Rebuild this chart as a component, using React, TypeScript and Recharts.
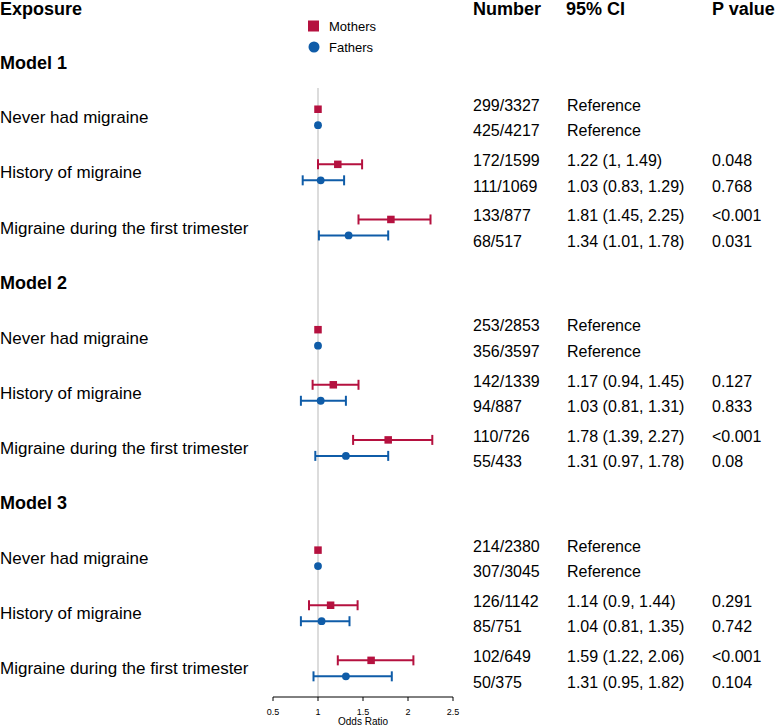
import {
  ErrorBar,
  Label,
  Legend,
  ReferenceLine,
  Scatter,
  ScatterChart,
  XAxis,
  YAxis,
} from 'recharts'

const models = ['Model 1', 'Model 2', 'Model 3']
const exposures = ['Never had migraine', 'History of migraine', 'Migraine during the first trimester']
const columnHeads = ['Number', '95% CI', 'P value']
const oddsTicks = [0.5, 1, 1.5, 2, 2.5]

// per model: never / history / first trimester
const motherOR = [1, 1.22, 1.81, 1, 1.17, 1.78, 1, 1.14, 1.59]
const motherLow = [1, 1, 1.45, 1, 0.94, 1.39, 1, 0.9, 1.22]
const motherHigh = [1, 1.49, 2.25, 1, 1.45, 2.27, 1, 1.44, 2.06]
const motherN = ['299/3327', '172/1599', '133/877', '253/2853', '142/1339', '110/726', '214/2380', '126/1142', '102/649']
const motherP = ['', '0.048', '<0.001', '', '0.127', '<0.001', '', '0.291', '<0.001']

const fatherOR = [1, 1.03, 1.34, 1, 1.03, 1.31, 1, 1.04, 1.31]
const fatherLow = [1, 0.83, 1.01, 1, 0.81, 0.97, 1, 0.81, 0.95]
const fatherHigh = [1, 1.29, 1.78, 1, 1.31, 1.78, 1, 1.35, 1.82]
const fatherN = ['425/4217', '111/1069', '68/517', '356/3597', '94/887', '55/433', '307/3045', '85/751', '50/375']
const fatherP = ['', '0.768', '0.031', '', '0.833', '0.08', '', '0.742', '0.104']

const RED = '#b5113f'
const BLUE = '#0f5ca8'
const FONT = '"Liberation Sans", Arial, Helvetica, sans-serif'
const COL_X = [473, 567, 712]
const HEAD_X = [473, 566, 712]

// y slot: 0 = header, each model takes a title line + 3 exposure lines
const slotOf = (i: number) => 2 + Math.floor(i / 3) * 4 + (i % 3)

function buildRows(or: number[], lo: number[], hi: number[], n: string[], p: string[], shift: number) {
  return or.map((v, i) => {
    const isRef = i % 3 === 0
    return {
      or: v,
      y: slotOf(i) + shift,
      err: isRef ? null : [v - lo[i], hi[i] - v],
      n: n[i],
      ci: isRef ? 'Reference' : `${v} (${lo[i]}, ${hi[i]})`,
      p: p[i],
    }
  })
}

const mothers = buildRows(motherOR, motherLow, motherHigh, motherN, motherP, -0.145)
const fathers = buildRows(fatherOR, fatherLow, fatherHigh, fatherN, fatherP, 0.145)

const leftRows: { y: number; text: string; bold: boolean }[] = [{ y: 0, text: 'Exposure', bold: true }]
models.forEach((m, mi) => {
  leftRows.push({ y: 1 + mi * 4, text: m, bold: true })
  exposures.forEach((e, ei) => leftRows.push({ y: 2 + mi * 4 + ei, text: e, bold: false }))
})

function LeftTick({ y, payload }: any) {
  const row = leftRows.find((r) => r.y === payload.value)
  if (!row) return null
  // top header line sits a touch lower so it clears the page edge
  const ty = payload.value === 0 ? y + 2 : y
  return (
    <g>
      <text x={0} y={ty} dy="0.36em" fill="#000" fontSize={row.bold ? 18 : 17} fontWeight={row.bold ? 700 : 400} fontFamily={FONT}>
        {row.text}
      </text>
      {payload.value === 0 &&
        columnHeads.map((h, i) => (
          <text key={h} x={HEAD_X[i]} y={ty} dy="0.36em" fill="#000" fontSize={18} fontWeight={700} fontFamily={FONT}>
            {h}
          </text>
        ))}
    </g>
  )
}

// marker plus the table line (number / CI / p) beside it
function rowShape(kind: 'square' | 'circle', color: string, textShift: number) {
  return (props: any) => {
    const { cx, cy, payload } = props
    const ty = cy + textShift
    return (
      <g>
        {kind === 'square' ? (
          <rect x={cx - 3.75} y={cy - 3.75} width={7.5} height={7.5} fill={color} />
        ) : (
          <circle cx={cx} cy={cy} r={3.9} fill={color} />
        )}
        {[payload.n, payload.ci, payload.p].map((t: string, i: number) => (
          <text key={i} x={COL_X[i]} y={ty} dy="0.36em" fill="#000" fontSize={16} fontFamily={FONT}>
            {t}
          </text>
        ))}
      </g>
    )
  }
}

function SeriesLegend() {
  return (
    <svg width={90} height={44} style={{ display: 'block' }}>
      <rect x={2} y={5.5} width={11} height={11} fill={RED} />
      <text x={23} y={11} dy="0.36em" fontSize={13} fontFamily={FONT} fill="#000">
        Mothers
      </text>
      <circle cx={8} cy={32} r={5.5} fill={BLUE} />
      <text x={23} y={32} dy="0.36em" fontSize={13} fontFamily={FONT} fill="#000">
        Fathers
      </text>
    </svg>
  )
}

export default function App() {
  return (
    <div style={{ position: 'absolute', left: 0, top: 0, width: 778, height: 727, background: '#fff' }}>
      <ScatterChart
        width={778}
        height={727}
        margin={{ top: 7, right: 325, bottom: 0, left: 0 }}
        style={{ fontFamily: FONT }}
      >
        <XAxis
          type="number"
          dataKey="or"
          domain={[0.5, 2.5]}
          ticks={oddsTicks}
          tick={{ fontSize: 9, fill: '#000' }}
          tickLine={{ stroke: '#000' }}
          axisLine={{ stroke: '#000' }}
          tickSize={4}
          tickMargin={8}
          height={30}
        >
          <Label value="Odds Ratio" position="insideBottom" offset={2} fontSize={10} fill="#000" />
        </XAxis>
        <YAxis
          type="number"
          dataKey="y"
          domain={[0, 12.52]}
          reversed
          ticks={leftRows.map((r) => r.y)}
          interval={0}
          tick={<LeftTick />}
          width={273}
          axisLine={false}
          tickLine={false}
        />
        <ReferenceLine
          segment={[
            { x: 1, y: 1.47 },
            { x: 1, y: 12.52 },
          ]}
          stroke="#d4d4d4"
          strokeWidth={1.6}
        />
        <Legend
          layout="vertical"
          align="center"
          verticalAlign="middle"
          wrapperStyle={{ left: 306, top: 15, width: 90 }}
          content={<SeriesLegend />}
        />
        <Scatter name="Mothers" data={mothers} fill={RED} shape={rowShape('square', RED, -4)} isAnimationActive={false}>
          <ErrorBar direction="x" dataKey="err" width={5} strokeWidth={2} stroke={RED} />
        </Scatter>
        <Scatter name="Fathers" data={fathers} fill={BLUE} shape={rowShape('circle', BLUE, 5.5)} isAnimationActive={false}>
          <ErrorBar direction="x" dataKey="err" width={5} strokeWidth={2} stroke={BLUE} />
        </Scatter>
      </ScatterChart>
    </div>
  )
}
